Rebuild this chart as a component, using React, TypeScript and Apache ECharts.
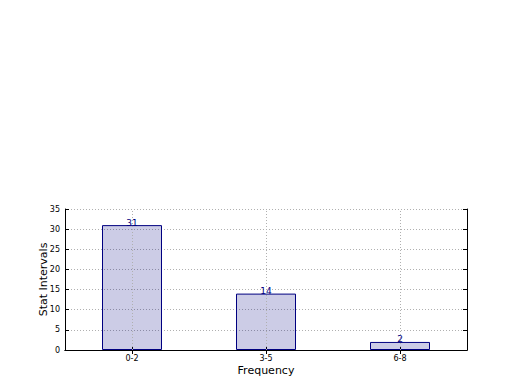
import React, { useEffect, useRef } from "react";
import * as echarts from "echarts";

const categories = ["0-2", "3-5", "6-8"];
const values = [31, 14, 2];
const yTicks = { min: 0, max: 35, interval: 5 };

export default function App() {
  const ref = useRef<HTMLDivElement>(null);
  useEffect(() => {
    const chart = echarts.init(ref.current!, null, { renderer: "svg" });
    const font = "DejaVu Sans";
    const grid = { left: 65, right: 53, top: 209, bottom: 40 };
    const dottedStyle = { color: "#b0b0b0", type: [1, 2] as any, width: 1 };
    chart.setOption({
      animation: false,
      backgroundColor: "#fff",
      grid,
      xAxis: [
        {
          type: "category",
          data: categories,
          boundaryGap: true,
          name: "Frequency",
          nameLocation: "middle",
          nameGap: 15,
          nameMoveOverlap: false,
          nameTextStyle: { fontFamily: font, fontSize: 11, color: "#000" },
          axisLine: { show: true, lineStyle: { color: "#000" } },
          axisTick: { show: true, inside: true, alignWithLabel: true, length: 4, lineStyle: { color: "#000" } },
          axisLabel: { fontFamily: font, fontSize: 8, color: "#000", margin: 4 },
          splitLine: { show: false },
        },
        {
          type: "category",
          data: categories,
          position: "top",
          boundaryGap: true,
          axisLine: { show: true, lineStyle: { color: "#000" } },
          axisTick: { show: true, inside: true, alignWithLabel: true, length: 4, lineStyle: { color: "#000" } },
          axisLabel: { show: false },
          splitLine: { show: false },
        },
      ],
      yAxis: [
        {
          type: "value",
          min: yTicks.min,
          max: yTicks.max,
          interval: yTicks.interval,
          name: "Stat Intervals",
          nameLocation: "middle",
          nameGap: 16,
          nameMoveOverlap: false,
          nameTextStyle: { fontFamily: font, fontSize: 11, color: "#000" },
          axisLine: { show: true, lineStyle: { color: "#000" } },
          axisTick: { show: true, inside: true, length: 4, lineStyle: { color: "#000" } },
          axisLabel: { fontFamily: font, fontSize: 8, color: "#000", margin: 5 },
          splitLine: { show: true, lineStyle: dottedStyle },
        },
        {
          type: "value",
          min: yTicks.min,
          max: yTicks.max,
          interval: yTicks.interval,
          position: "right",
          axisLine: { show: true, lineStyle: { color: "#000" } },
          axisTick: { show: true, inside: true, length: 4, lineStyle: { color: "#000" } },
          axisLabel: { show: false },
          splitLine: { show: false },
        },
      ],
      series: [
        {
          type: "bar",
          data: values,
          barWidth: 60,
          itemStyle: { color: "rgba(0,0,128,0.2)", borderColor: "#000080", borderWidth: 1 },
          label: {
            show: true,
            position: "top",
            distance: -2,
            color: "#000080",
            fontFamily: font,
            fontSize: 9,
          },
          markLine: {
            silent: true,
            symbol: "none",
            label: { show: false },
            lineStyle: dottedStyle,
            data: categories.map((c) => [
              { xAxis: c, yAxis: yTicks.min },
              { xAxis: c, yAxis: yTicks.max },
            ]),
          },
          z: 1,
        },
      ],
    });
    return () => chart.dispose();
  }, []);
  return <div ref={ref} style={{ position: "absolute", left: 0, top: 0, width: 520, height: 390 }} />;
}
